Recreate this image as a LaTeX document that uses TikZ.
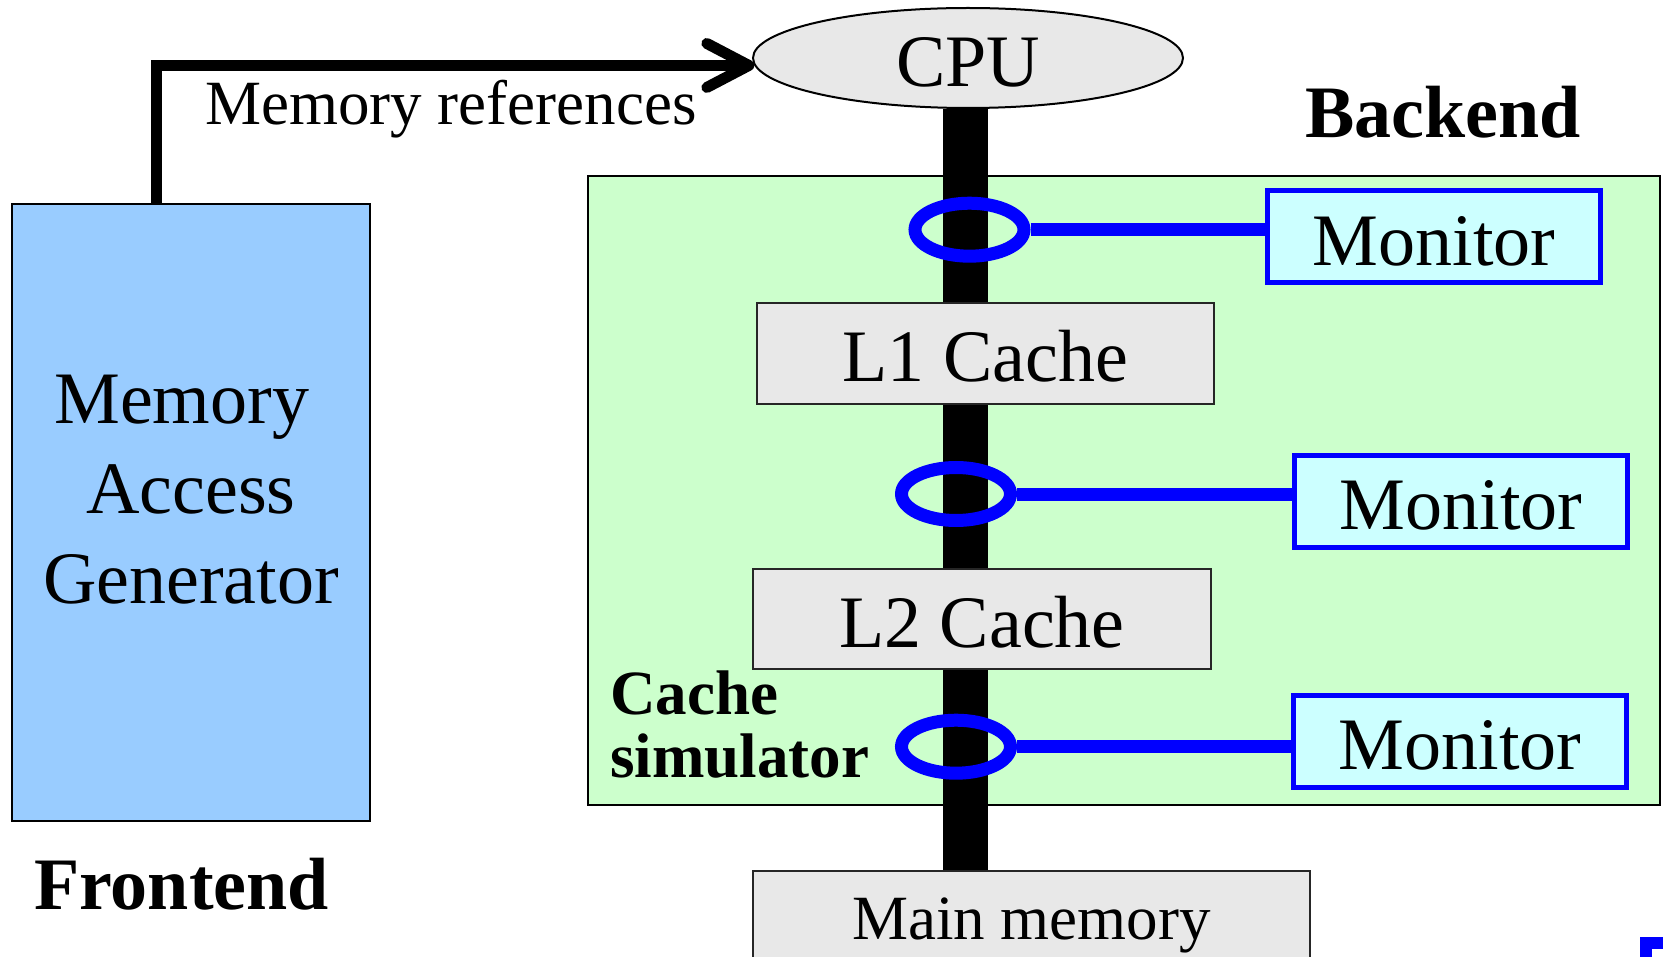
\documentclass[tikz,border=0pt]{standalone}
\usepackage{fontspec}
\setmainfont{Liberation Serif}
\usetikzlibrary{arrows.meta,shapes.geometric}
\pgfdeclarelayer{bg}
\pgfdeclarelayer{buslayer}
\pgfsetlayers{bg,buslayer,main}
\definecolor{feblue}{HTML}{99CCFF}
\definecolor{simgreen}{HTML}{CCFFCC}
\definecolor{boxgray}{HTML}{E8E8E8}
\definecolor{moncyan}{HTML}{CCFFFF}
\definecolor{ringblue}{HTML}{0000FF}
\tikzset{
  bigtext/.style={font=\fontsize{74}{90}\selectfont},
  midtext/.style={font=\fontsize{63}{63}\selectfont},
  cachebox/.style={draw=black!85, line width=2pt, fill=boxgray, inner sep=0pt,
    text height=57pt, text depth=0pt, bigtext},
  monbox/.style={draw=ringblue, line width=5pt, fill=moncyan, minimum width=333pt,
    minimum height=92pt, inner sep=0pt, text height=57pt, text depth=0pt, bigtext},
  ring/.style={ellipse, draw=ringblue, line width=13pt, minimum width=109pt,
    minimum height=53pt, inner sep=0pt},
  probe/.style={draw=ringblue, line width=13pt},
  bus/.style={line width=45pt, black},
  flow/.style={line width=11pt, -{Straight Barb[length=42pt,width=44pt,round]}},
  lbl/.style={inner sep=0pt},
}
\begin{document}
\begin{tikzpicture}[x=1pt,y=-1pt]
\clip (0,0) rectangle (1663,957);
\begin{pgfonlayer}{bg}
  \fill[white] (0,0) rectangle (1663,957);
  \node[draw=black, line width=2pt, fill=simgreen, minimum width=1072pt,
    minimum height=629pt, inner sep=0pt] (sim) at (1124,490.5) {};
\end{pgfonlayer}

% frontend
\node[draw=black, line width=2pt, fill=feblue, minimum width=358pt,
  minimum height=617pt, inner sep=0pt] (fe) at (191,512.5) {};
\node[lbl, bigtext, align=center, anchor=north] (fetext) at (191,375)
  {Memory\hspace*{18.5pt}\\Access\\Generator};
\node[lbl, font=\fontsize{74}{90}\selectfont\bfseries, anchor=base west] (frontend) at (34,909) {Frontend};

% backend
\node[ellipse, draw=black, line width=2pt, fill=boxgray, minimum width=430pt,
  minimum height=100pt, inner sep=0pt, bigtext, text height=57pt, text depth=0pt] (cpu) at (968,58) {CPU};
\node[lbl, font=\fontsize{74}{90}\selectfont\bfseries, anchor=base west] (backend) at (1305,138) {Backend};

\node[cachebox, minimum width=457pt, minimum height=101pt] (l1) at (985.5,353.5) {L1 Cache};
\node[cachebox, minimum width=458pt, minimum height=100pt] (l2) at (982,619) {L2 Cache};
\node[cachebox, minimum width=557pt, minimum height=200pt, font=\fontsize{63}{75}\selectfont,
  text height=0pt, text depth=64pt] (mm) at (1031.5,971) {Main memory};

\coordinate (bt) at ([xshift=-2.5pt]cpu.south);
\coordinate (bb) at (bt |- mm.north);
\begin{pgfonlayer}{buslayer}
  \draw[bus] (bt) -- (bb);
\end{pgfonlayer}

\node[lbl, font=\fontsize{63}{63}\selectfont\bfseries, align=left, anchor=north west] (simlbl) at (610,671) {Cache\\simulator};

\node[ring] (r1) at (969.5,229.7) {};
\node[ring] (r2) at (956,494) {};
\node[ring] (r3) at (956,746.7) {};

\node[monbox] (m1) at (1434,237) {Monitor};
\node[monbox] (m2) at (1461,501) {Monitor};
\node[monbox] (m3) at (1460,741) {Monitor};

\draw[probe] (r1.east) -- (r1.east -| m1.west);
\draw[probe] (r2.east) -- (r2.east -| m2.west);
\draw[probe] (r3.east) -- (r3.east -| m3.west);

% memory references arrow
\coordinate (src) at ([xshift=145pt]fe.north west);
\draw[flow] (src) |- (cpu.182.7);
\node[lbl, midtext, anchor=base west] (mref) at (205,125) {Memory references};

% cropped corner at bottom right
\fill[ringblue] (1640,937) rectangle (1663,957);
\fill[white] (1652,949) rectangle (1663,957);
\end{tikzpicture}
\end{document}
